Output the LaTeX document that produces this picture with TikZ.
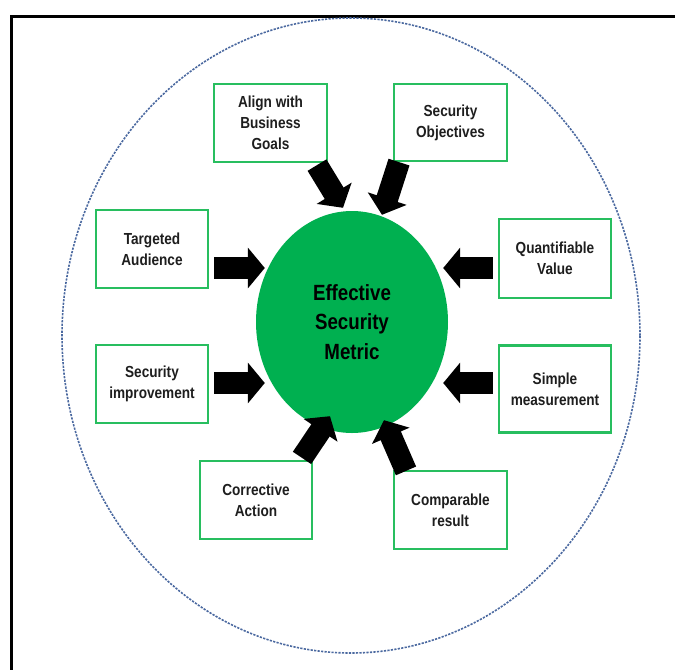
\documentclass[tikz,border=0pt]{standalone}
\usepackage{fontspec}
\setmainfont{Liberation Sans}
\newfontfamily\nar[FakeStretch=0.85]{Liberation Sans}
\usetikzlibrary{shapes.geometric,arrows.meta}
\definecolor{boxgreen}{RGB}{40,190,95}
\definecolor{circgreen}{RGB}{0,176,80}
\definecolor{dashblue}{RGB}{75,105,160}
\definecolor{txtgray}{RGB}{30,30,30}
\tikzset{
  box/.style={draw=boxgreen, line width=2.2pt, fill=white, align=center, inner sep=2pt,
    font=\nar\bfseries\fontsize{16}{21}\selectfont, text=txtgray},
  blk/.style={line width=22pt, draw=black, -{Triangle[length=17pt,width=40pt]}}
}
\begin{document}
\begin{tikzpicture}[x=1pt,y=-1pt]
\useasboundingbox (0,0) rectangle (675,670);
\fill[white] (0,0) rectangle (675,670);
% frame
\coordinate (ftr) at (675,16);
\coordinate (ftl) at (11,16);
\coordinate (fbl) at (11,670);
\draw[line width=3pt, black] (ftr) -- (ftl) -- (fbl);
% outer dashed ellipse
\node[draw=dashblue, ellipse, dash pattern=on 2.2pt off 1.3pt, line width=1.6pt,
  minimum width=578pt, minimum height=635pt, inner sep=0] (outer) at (351,335.5) {};
% central circle
\node[ellipse, fill=circgreen, minimum width=192pt, minimum height=222pt, inner sep=0,
  align=center, font=\nar\bfseries\fontsize{22}{29.5}\selectfont] (c) at (352,322)
  {Effective\\Security\\Metric};
% boxes
\node[box, minimum width=113pt, minimum height=78pt] (ab) at (270.5,123) {Align with\\Business\\Goals};
\node[box, minimum width=113pt, minimum height=77pt] (so) at (450.5,122.5) {Security\\Objectives};
\node[box, minimum width=112pt, minimum height=78pt] (ta) at (152,249) {Targeted\\Audience};
\node[box, minimum width=112pt, minimum height=78pt] (si) at (152,384) {Security\\improvement};
\node[box, minimum width=112pt, minimum height=79pt] (qv) at (555,258.5) {Quantifiable\\Value};
\node[box, minimum width=112pt, minimum height=87pt] (sm) at (555,389) {Simple\\measurement};
\node[box, minimum width=112pt, minimum height=78pt] (ca) at (256,500) {Corrective\\Action};
\node[box, minimum width=113pt, minimum height=78pt] (cr) at (450.5,510) {Comparable\\result};
% arrows
\draw[blk] ([shift={(5,19)}]ta.east) -- ([shift={(9,-54)}]c.west);
\draw[blk] ([shift={(5,-1)}]si.east) -- ([shift={(9,61)}]c.west);
\draw[blk] ([shift={(-5,9.5)}]qv.west) -- ([shift={(-5,-54)}]c.east);
\draw[blk] ([shift={(-5,-6)}]sm.west) -- ([shift={(-5,61)}]c.east);
\draw[blk] ([shift={(46.5,2)}]ab.south) -- ([shift={(-9,-3)}]c.north);
\draw[blk] ([shift={(-51.5,0)}]so.south) -- ([shift={(30,4)}]c.north);
\draw[blk] ([shift={(46,-2)}]ca.north) -- ([shift={(-22,-17)}]c.south);
\draw[blk] ([shift={(-44.5,1)}]cr.north) -- ([shift={(32,-13)}]c.south);
\end{tikzpicture}
\end{document}
